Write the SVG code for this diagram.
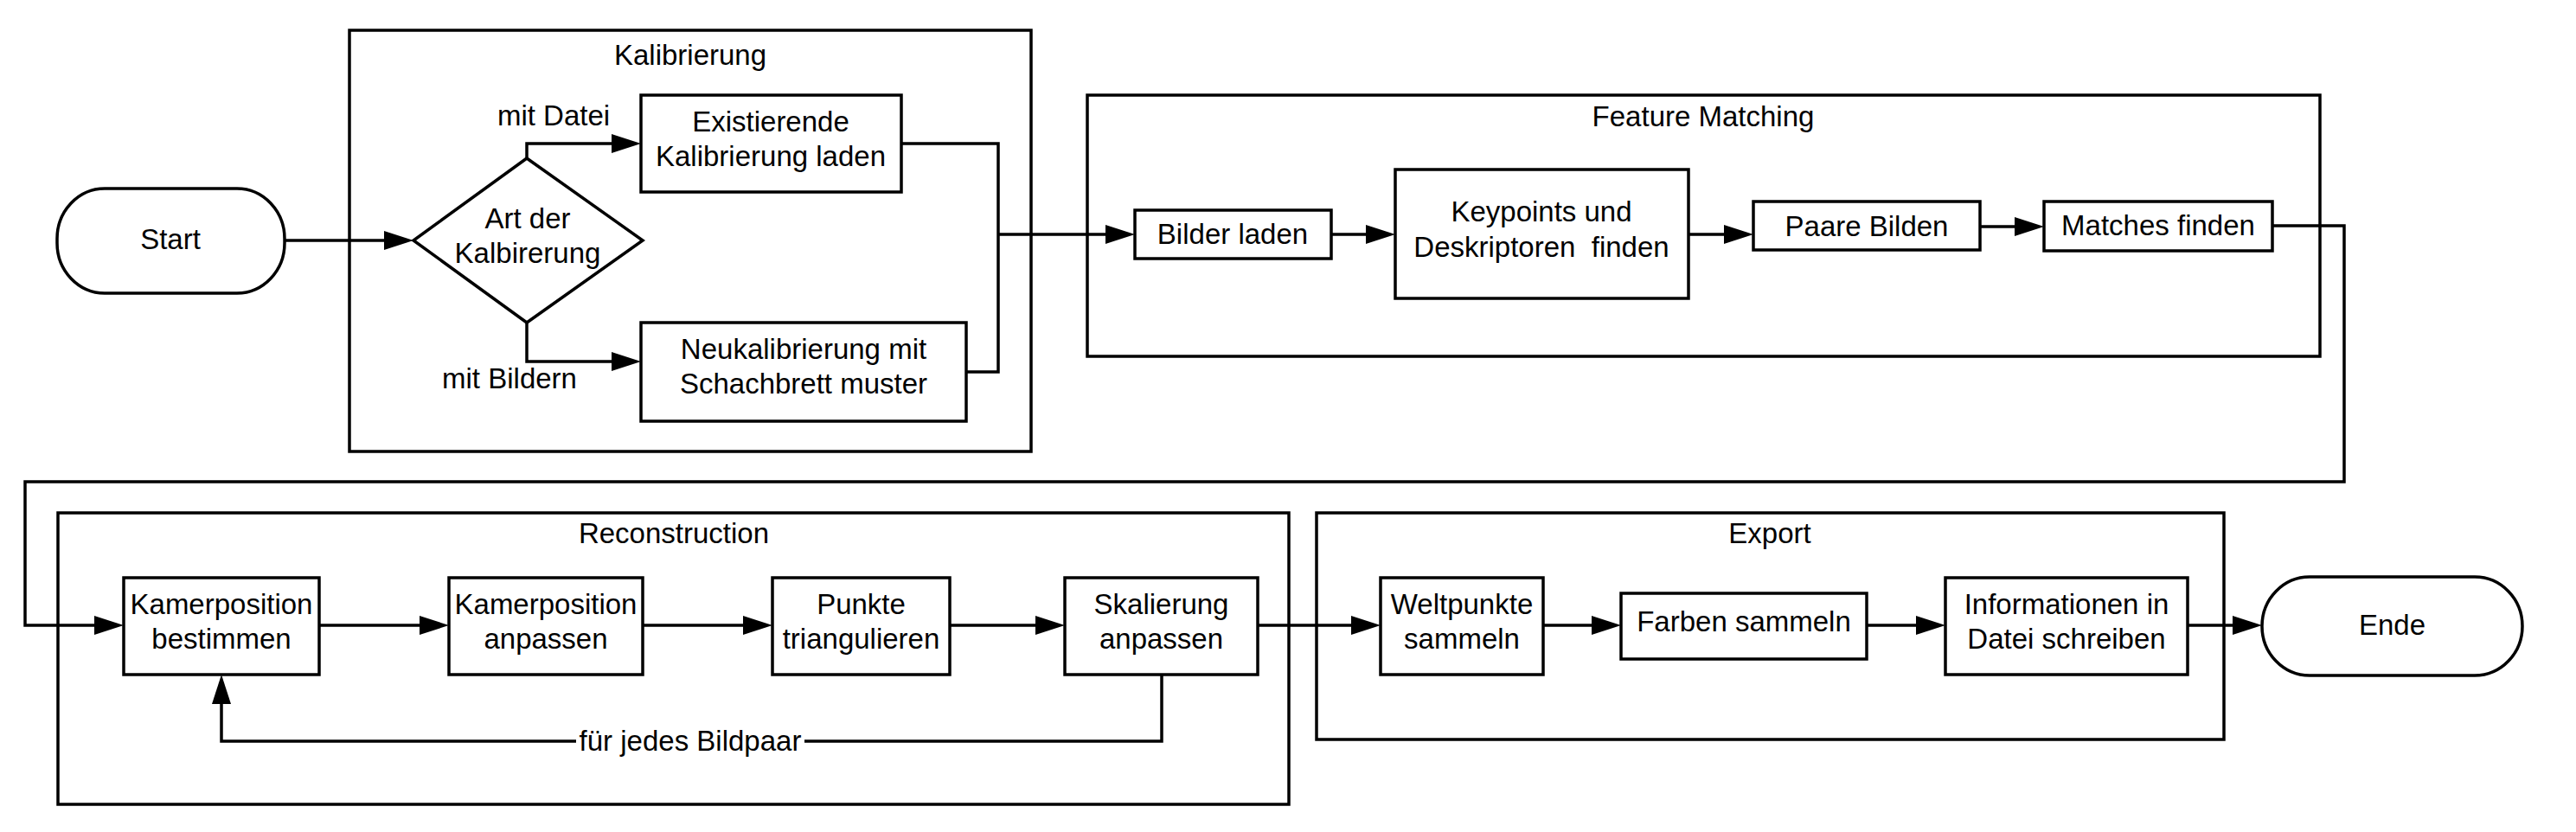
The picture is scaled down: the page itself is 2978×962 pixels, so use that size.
<svg xmlns="http://www.w3.org/2000/svg" width="2978" height="962" viewBox="0 0 2978 962">
<defs>
<style>
text{font-family:"Liberation Sans",Arial,sans-serif;font-size:33px;fill:#000;text-anchor:middle}
.frame{fill:none;stroke:#000;stroke-width:3.5}
.box{fill:#fff;stroke:#000;stroke-width:3.5}
.con{fill:none;stroke:#000;stroke-width:3.5}
.arr{marker-end:url(#ah)}
</style>
<marker id="ah" markerUnits="userSpaceOnUse" markerWidth="34" markerHeight="22" refX="24" refY="11" orient="auto">
<path d="M0,0 L34,11 L0,22 z" fill="#000"/>
</marker>
</defs>
<rect width="2978" height="962" fill="#fff"/>

<g id="frame-kalibrierung">
<rect class="frame" x="404" y="35" width="788" height="487"/>
<text x="798" y="75">Kalibrierung</text>
</g>
<g id="frame-feature">
<rect class="frame" x="1257" y="110" width="1425" height="302"/>
<text x="1969" y="146">Feature Matching</text>
</g>
<g id="frame-reconstruction">
<rect class="frame" x="67" y="593" width="1423" height="337"/>
<text x="779" y="628">Reconstruction</text>
</g>
<g id="frame-export">
<rect class="frame" x="1522" y="593" width="1049" height="262"/>
<text x="2046" y="628">Export</text>
</g>

<g id="connectors">
<path class="con arr" d="M329,278 H468"/>
<path class="con arr" d="M609,183 V166 H731"/>
<path class="con arr" d="M609,373 V418 H731"/>
<path class="con" d="M1042,166 H1154 V430 H1117"/>
<path class="con arr" d="M1154,271 H1302"/>
<path class="con arr" d="M1539,271 H1603"/>
<path class="con arr" d="M1952,271 H2017"/>
<path class="con arr" d="M2289,262 H2353"/>
<path class="con arr" d="M2627,261 H2710 V557 H29 V723 H133"/>
<path class="con arr" d="M369,723 H509"/>
<path class="con arr" d="M743,723 H883"/>
<path class="con arr" d="M1098,723 H1221"/>
<path class="con arr" d="M1454,723 H1586"/>
<path class="con arr" d="M1784,723 H1864"/>
<path class="con arr" d="M2158,723 H2239"/>
<path class="con arr" d="M2529,723 H2605"/>
<path class="con arr" d="M1343,780 V857 H256 V790"/>
<rect x="666" y="838" width="264" height="38" fill="#fff"/>
<text x="798" y="868">für jedes Bildpaar</text>
<text x="640" y="145">mit Datei</text>
<text x="589" y="449">mit Bildern</text>
</g>

<g id="start">
<rect class="box" x="66" y="218" width="263" height="121" rx="55" ry="58"/>
<text x="197" y="288">Start</text>
</g>
<g id="art-der-kalibrierung">
<polygon class="box" points="609,183 743,278 609,373 478,278"/>
<text x="610" y="264">Art der</text>
<text x="610" y="304">Kalbirerung</text>
</g>
<g id="existierende">
<rect class="box" x="741" y="110" width="301" height="112"/>
<text x="891" y="152">Existierende</text>
<text x="891" y="192">Kalibrierung laden</text>
</g>
<g id="neukalibrierung">
<rect class="box" x="741" y="373" width="376" height="114"/>
<text x="929" y="415">Neukalibrierung mit</text>
<text x="929" y="455">Schachbrett muster</text>
</g>
<g id="bilder-laden">
<rect class="box" x="1312" y="243" width="227" height="56"/>
<text x="1425" y="282">Bilder laden</text>
</g>
<g id="keypoints">
<rect class="box" x="1613" y="196" width="339" height="149"/>
<text x="1782" y="256">Keypoints und</text>
<text x="1782" y="297" xml:space="preserve">Deskriptoren  finden</text>
</g>
<g id="paare-bilden">
<rect class="box" x="2027" y="233" width="262" height="56"/>
<text x="2158" y="273">Paare Bilden</text>
</g>
<g id="matches-finden">
<rect class="box" x="2363" y="233" width="264" height="57"/>
<text x="2495" y="272">Matches finden</text>
</g>
<g id="kamerposition-bestimmen">
<rect class="box" x="143" y="668" width="226" height="112"/>
<text x="256" y="710">Kamerposition</text>
<text x="256" y="750">bestimmen</text>
</g>
<g id="kamerposition-anpassen">
<rect class="box" x="519" y="668" width="224" height="112"/>
<text x="631" y="710">Kamerposition</text>
<text x="631" y="750">anpassen</text>
</g>
<g id="punkte-triangulieren">
<rect class="box" x="893" y="668" width="205" height="112"/>
<text x="995.5" y="710">Punkte</text>
<text x="995.5" y="750">triangulieren</text>
</g>
<g id="skalierung-anpassen">
<rect class="box" x="1231" y="668" width="223" height="112"/>
<text x="1342.5" y="710">Skalierung</text>
<text x="1342.5" y="750">anpassen</text>
</g>
<g id="weltpunkte-sammeln">
<rect class="box" x="1596" y="668" width="188" height="112"/>
<text x="1690" y="710">Weltpunkte</text>
<text x="1690" y="750">sammeln</text>
</g>
<g id="farben-sammeln">
<rect class="box" x="1874" y="686" width="284" height="76"/>
<text x="2016" y="730">Farben sammeln</text>
</g>
<g id="informationen">
<rect class="box" x="2249" y="668" width="280" height="112"/>
<text x="2389" y="710">Informationen in</text>
<text x="2389" y="750">Datei schreiben</text>
</g>
<g id="ende">
<rect class="box" x="2615" y="667" width="301" height="114" rx="55" ry="57"/>
<text x="2765.5" y="734">Ende</text>
</g>
</svg>
